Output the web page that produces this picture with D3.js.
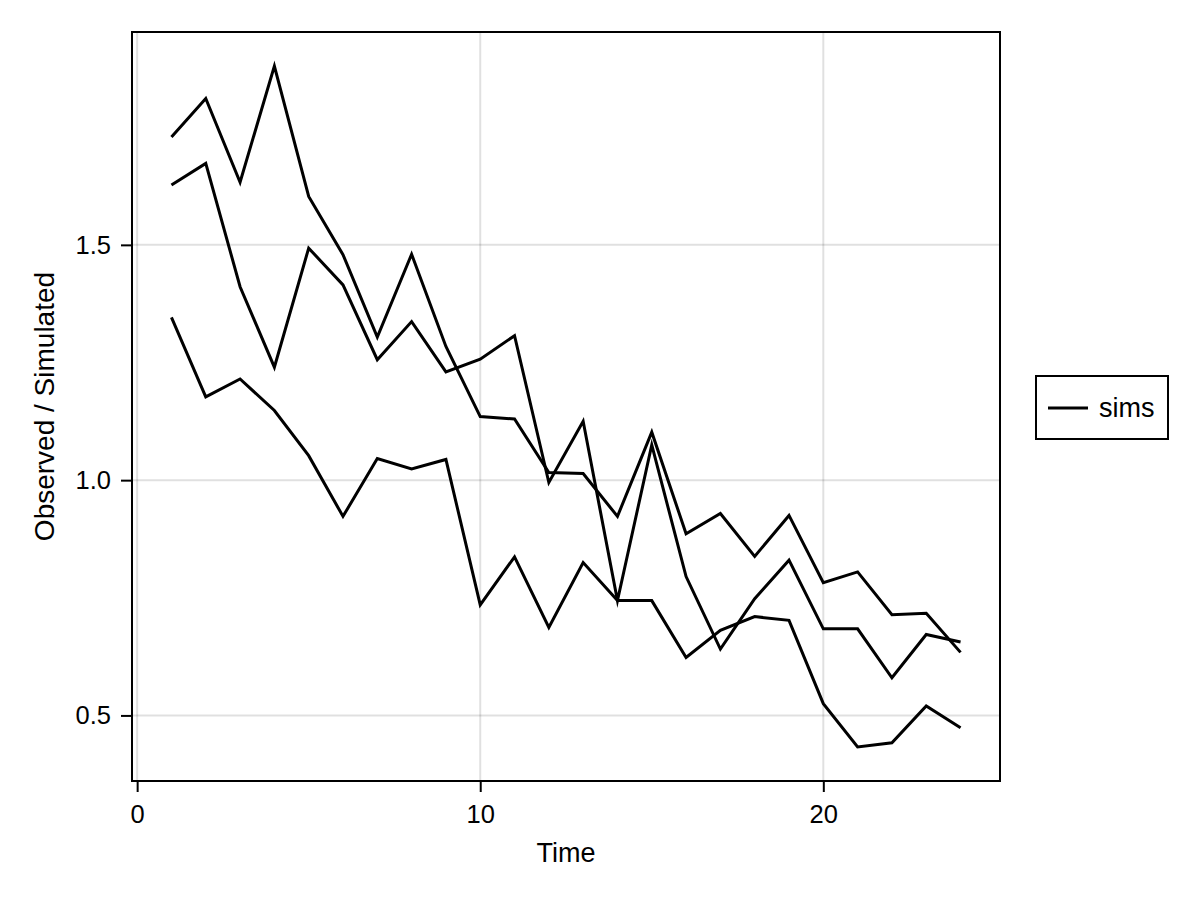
<!DOCTYPE html>
<html>
<head>
<meta charset="utf-8">
<script src="https://cdn.jsdelivr.net/npm/d3@7"></script>
<style>
  html, body { margin: 0; padding: 0; background: #fff; }
  svg { display: block; }
  text { font-family: "Liberation Sans", Arial, sans-serif; fill: #000; }
</style>
</head>
<body>
<svg id="chart" width="1200" height="900"></svg>
<script>
const times = d3.range(1, 25);
const seriesA = [1.729, 1.811, 1.633, 1.880, 1.603, 1.479, 1.304, 1.480, 1.284, 1.135, 1.130, 1.016, 1.014, 0.923, 1.102, 0.886, 0.929, 0.838, 0.925, 0.782, 0.805, 0.714, 0.717, 0.634];
const seriesB = [1.627, 1.673, 1.411, 1.240, 1.493, 1.415, 1.256, 1.337, 1.230, 1.257, 1.307, 0.995, 1.125, 0.744, 1.075, 0.795, 0.641, 0.748, 0.830, 0.684, 0.684, 0.580, 0.672, 0.656];
const seriesC = [1.346, 1.177, 1.215, 1.148, 1.052, 0.923, 1.046, 1.024, 1.044, 0.735, 0.837, 0.687, 0.825, 0.744, 0.744, 0.623, 0.681, 0.710, 0.702, 0.525, 0.433, 0.442, 0.520, 0.474];
const allSeries = [seriesA, seriesB, seriesC];
const xTicks = [0, 10, 20];
const yTicks = [0.5, 1.0, 1.5];
const yTickLabels = ["0.5", "1.0", "1.5"];
const xLabel = "Time";
const yLabel = "Observed / Simulated";
const legendLabel = "sims";

const svg = d3.select("#chart");
const L = 132, R = 1000, T = 32, B = 781;

// Makie-like 5% padding
const xs = times;
const xmin = d3.min(xs), xmax = d3.max(xs);
const xpad = (xmax - xmin) * 0.05;
const allVals = allSeries.flat();
const ymin = d3.min(allVals), ymax = d3.max(allVals);
const ypad = (ymax - ymin) * 0.05;

const x = d3.scaleLinear().domain([xmin - xpad, xmax + xpad]).range([L, R]);
const y = d3.scaleLinear().domain([ymin - ypad, ymax + ypad]).range([B, T]);

// grid
const grid = svg.append("g");
grid.selectAll("line.gx").data(xTicks).enter().append("line")
  .attr("x1", d => x(d)).attr("x2", d => x(d)).attr("y1", T).attr("y2", B)
  .attr("stroke", "rgba(0,0,0,0.12)").attr("stroke-width", 2);
grid.selectAll("line.gy").data(yTicks).enter().append("line")
  .attr("y1", d => y(d)).attr("y2", d => y(d)).attr("x1", L).attr("x2", R)
  .attr("stroke", "rgba(0,0,0,0.12)").attr("stroke-width", 2);

// lines
const line = d3.line().x((d, i) => x(times[i])).y(d => y(d));
svg.append("g").selectAll("path").data(allSeries).enter().append("path")
  .attr("d", d => line(d))
  .attr("fill", "none").attr("stroke", "#000").attr("stroke-width", 3)
  .attr("stroke-linejoin", "miter").attr("stroke-miterlimit", 10);

// frame
svg.append("rect").attr("x", L).attr("y", T).attr("width", R - L).attr("height", B - T)
  .attr("fill", "none").attr("stroke", "#000").attr("stroke-width", 2);

// axes
const xAxis = d3.axisBottom(x).tickValues(xTicks).tickSize(10).tickPadding(13).tickFormat(d3.format("d"));
const gx = svg.append("g").attr("transform", `translate(0,${B + 1})`).call(xAxis);
gx.select(".domain").remove();
gx.selectAll(".tick line").attr("stroke", "#000").attr("stroke-width", 2);
gx.selectAll(".tick text").attr("font-size", 25.5).attr("font-family", "Liberation Sans, Arial, sans-serif");

const yAxis = d3.axisLeft(y).tickValues(yTicks).tickSize(10).tickPadding(10)
  .tickFormat((d, i) => yTickLabels[i]);
const gy = svg.append("g").attr("transform", `translate(${L - 1},0)`).call(yAxis);
gy.select(".domain").remove();
gy.selectAll(".tick line").attr("stroke", "#000").attr("stroke-width", 2);
gy.selectAll(".tick text").attr("font-size", 25.5).attr("font-family", "Liberation Sans, Arial, sans-serif");

// axis labels
svg.append("text").attr("x", (L + R) / 2).attr("y", 862).attr("text-anchor", "middle")
  .attr("font-size", 27).text(xLabel);
svg.append("text").attr("transform", `translate(54,${(T + B) / 2}) rotate(-90)`)
  .attr("text-anchor", "middle").attr("font-size", 28).text(yLabel);

// legend
const lg = svg.append("g");
lg.append("rect").attr("x", 1036).attr("y", 376).attr("width", 132).attr("height", 63)
  .attr("fill", "#fff").attr("stroke", "#000").attr("stroke-width", 2);
lg.append("line").attr("x1", 1048).attr("x2", 1088).attr("y1", 408).attr("y2", 408)
  .attr("stroke", "#000").attr("stroke-width", 3);
lg.append("text").attr("x", 1099).attr("y", 417).attr("font-size", 27).text(legendLabel);
</script>
</body>
</html>
